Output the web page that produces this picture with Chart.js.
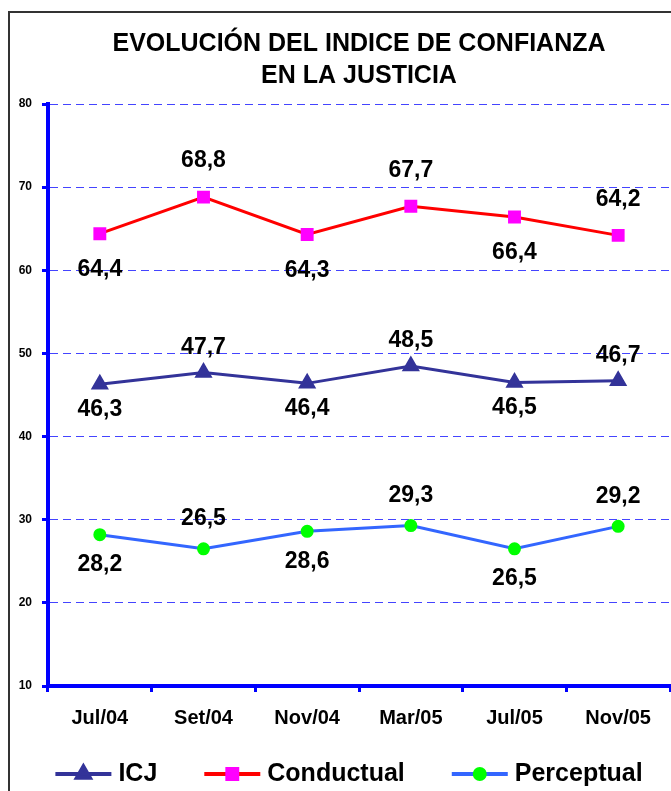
<!DOCTYPE html>
<html>
<head>
<meta charset="utf-8">
<script src="https://cdn.jsdelivr.net/npm/chart.js@4"></script>
<style>
  html, body { margin: 0; padding: 0; background: #fff; }
</style>
</head>
<body>
<canvas id="chart" width="671" height="791"></canvas>
<script>
const months = ['Jul/04', 'Set/04', 'Nov/04', 'Mar/05', 'Jul/05', 'Nov/05'];
const icj = [46.3, 47.7, 46.4, 48.5, 46.5, 46.7];
const conductual = [64.4, 68.8, 64.3, 67.7, 66.4, 64.2];
const perceptual = [28.2, 26.5, 28.6, 29.3, 26.5, 29.2];
const seriesNames = ['ICJ', 'Conductual', 'Perceptual'];
const titleLines = ['EVOLUCIÓN DEL INDICE DE CONFIANZA', 'EN LA JUSTICIA'];

const FONT = "'Liberation Sans', Arial, sans-serif";

// white background + grey frame around the whole chart
const framePlugin = {
  id: 'frame',
  beforeDraw(chart) {
    const ctx = chart.ctx;
    ctx.save();
    ctx.fillStyle = '#fff';
    ctx.fillRect(0, 0, chart.width, chart.height);
    ctx.strokeStyle = '#333';
    ctx.lineWidth = 2;
    ctx.strokeRect(9, 12, chart.width + 20, chart.height + 20);
    ctx.restore();
  }
};

// value labels, alternating below / above the points
const valueLabels = {
  id: 'valueLabels',
  afterDatasetsDraw(chart) {
    const ctx = chart.ctx;
    ctx.save();
    ctx.font = 'bold 23px ' + FONT;
    ctx.fillStyle = '#000';
    ctx.textAlign = 'center';
    ctx.textBaseline = 'middle';
    chart.data.datasets.forEach((ds, i) => {
      const meta = chart.getDatasetMeta(i);
      meta.data.forEach((pt, j) => {
        const txt = ds.data[j].toFixed(1).replace('.', ',');
        const y = j % 2 === 0 ? pt.y + ds.labelOffset : pt.y - ds.labelOffset;
        ctx.fillText(txt, pt.x, y);
      });
    });
    ctx.restore();
  }
};

// legend with line + marker samples, like the spreadsheet legend
const lineLegend = {
  id: 'lineLegend',
  afterDraw(chart) {
    const ctx = chart.ctx;
    const area = chart.chartArea;
    const sample = 56, gapText = 7, gapItem = 47;
    ctx.save();
    ctx.font = 'bold 25px ' + FONT;
    const items = chart.data.datasets.map(ds => ({ ds, w: ctx.measureText(ds.label).width }));
    let total = 0;
    items.forEach((it, k) => { total += sample + gapText + it.w + (k ? gapItem : 0); });
    let x = (area.left + area.right) / 2 - total / 2 - 10;
    const y = area.bottom + 88;
    items.forEach(it => {
      const ds = it.ds;
      ctx.strokeStyle = ds.borderColor;
      ctx.lineWidth = 4;
      ctx.beginPath();
      ctx.moveTo(x, y);
      ctx.lineTo(x + sample, y);
      ctx.stroke();
      ctx.fillStyle = ds.pointBackgroundColor;
      ctx.strokeStyle = ds.pointBorderColor;
      Chart.helpers.drawPoint(ctx, {
        pointStyle: ds.pointStyle, radius: ds.pointRadius, rotation: 0, borderWidth: 1
      }, x + sample / 2, y);
      ctx.fillStyle = '#000';
      ctx.textAlign = 'left';
      ctx.textBaseline = 'middle';
      ctx.fillText(ds.label, x + sample + gapText, y);
      x += sample + gapText + it.w + gapItem;
    });
    ctx.restore();
  }
};

new Chart(document.getElementById('chart'), {
  type: 'line',
  data: {
    labels: months,
    datasets: [
      {
        label: seriesNames[0],
        data: icj,
        borderColor: '#333399',
        borderWidth: 3,
        pointStyle: 'triangle',
        pointRadius: 7.5,
        pointBackgroundColor: '#333399',
        pointBorderColor: '#333399',
        labelOffset: 25
      },
      {
        label: seriesNames[1],
        data: conductual,
        borderColor: '#ff0000',
        borderWidth: 3,
        pointStyle: 'rect',
        pointRadius: 7,
        pointBackgroundColor: '#ff00ff',
        pointBorderColor: '#ff00ff',
        labelOffset: 36
      },
      {
        label: seriesNames[2],
        data: perceptual,
        borderColor: '#3366ff',
        borderWidth: 3,
        pointStyle: 'circle',
        pointRadius: 5,
        pointBackgroundColor: '#00ff00',
        pointBorderColor: '#00ff00',
        labelOffset: 30
      }
    ]
  },
  options: {
    responsive: false,
    animation: false,
    layout: { autoPadding: false, padding: { top: 28, left: 0, right: 1, bottom: 61 } },
    elements: { line: { tension: 0 } },
    plugins: {
      legend: { display: false },
      tooltip: { enabled: false },
      title: {
        display: true,
        fullSize: false,
        text: titleLines,
        color: '#000',
        font: { family: FONT, size: 25, weight: 'bold', lineHeight: 1.28 },
        padding: { top: 0, bottom: 12 }
      }
    },
    scales: {
      x: {
        offset: true,
        afterFit(scale) {
          scale.height = 44;
          scale.paddingLeft = 0;
          scale.paddingRight = 0;
        },
        grid: {
          offset: true,
          drawOnChartArea: false,
          drawTicks: true,
          tickLength: 6,
          tickColor: '#0000ff',
          tickWidth: 3
        },
        border: { color: '#0000ff', width: 4 },
        ticks: {
          color: '#000',
          padding: 14,
          maxRotation: 0,
          font: { family: FONT, size: 20, weight: 'bold' }
        }
      },
      y: {
        min: 10,
        max: 80,
        afterFit(scale) { scale.width = 48; },
        grid: {
          color: '#4444ff',
          lineWidth: 1,
          tickLength: 6,
          tickColor: '#0000ff',
          tickWidth: 3
        },
        border: { color: '#0000ff', width: 4, dash: [8, 5] },
        ticks: {
          stepSize: 10,
          color: '#000',
          padding: 10,
          font: { family: FONT, size: 12, weight: 'bold' }
        }
      }
    }
  },
  plugins: [framePlugin, valueLabels, lineLegend]
});
</script>
</body>
</html>
